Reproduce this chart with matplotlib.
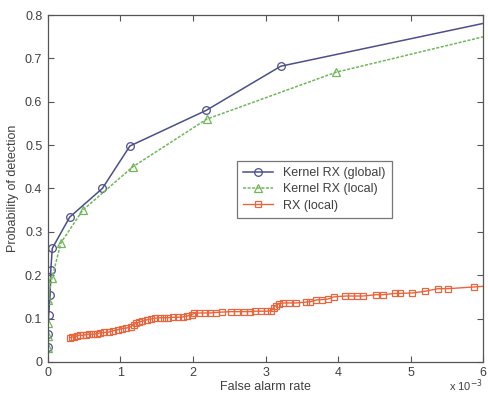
import numpy as np
import matplotlib.pyplot as plt

plt.rcParams['font.family'] = ['Liberation Sans', 'DejaVu Sans']

# Kernel RX (global)
krx_global_x = [0.0, 0.0, 0.01, 0.03, 0.04, 0.06, 0.30, 0.75, 1.13, 2.18, 3.21, 7.0]
krx_global_y = [0.035, 0.064, 0.108, 0.154, 0.212, 0.262, 0.334, 0.400, 0.498, 0.580, 0.682, 0.816]

# Kernel RX (local)
krx_local_x = [0.0, 0.0, 0.0, 0.0, 0.055, 0.18, 0.48, 1.17, 2.19, 3.97, 7.0]
krx_local_y = [0.032, 0.060, 0.090, 0.143, 0.193, 0.275, 0.350, 0.450, 0.560, 0.668, 0.790]

# RX (local)
rx_x = [0.30, 0.33, 0.36, 0.40, 0.44, 0.48, 0.52, 0.57, 0.62, 0.67, 0.72, 0.78,
        0.84, 0.90, 0.96, 1.02, 1.08, 1.14, 1.18, 1.22, 1.26, 1.30, 1.36, 1.42,
        1.48, 1.54, 1.60, 1.66, 1.72, 1.80, 1.86, 1.92, 1.98, 2.02, 2.08, 2.16,
        2.24, 2.32, 2.40, 2.52, 2.60, 2.70, 2.78, 2.86, 2.94, 3.02, 3.08, 3.11,
        3.14, 3.18, 3.24, 3.32, 3.42, 3.56, 3.62, 3.70, 3.78, 3.86, 3.94, 4.10,
        4.18, 4.26, 4.34, 4.52, 4.62, 4.78, 4.86, 5.02, 5.20, 5.38, 5.52, 5.88, 6.5]
rx_y = [0.055, 0.058, 0.057, 0.060, 0.062, 0.061, 0.063, 0.064, 0.064, 0.065, 0.067, 0.068,
        0.069, 0.072, 0.074, 0.077, 0.078, 0.081, 0.086, 0.090, 0.092, 0.094, 0.097, 0.099,
        0.101, 0.102, 0.102, 0.102, 0.103, 0.103, 0.104, 0.106, 0.109, 0.112, 0.113, 0.113,
        0.113, 0.114, 0.115, 0.116, 0.116, 0.116, 0.116, 0.117, 0.117, 0.117, 0.118, 0.125,
        0.130, 0.134, 0.136, 0.136, 0.136, 0.138, 0.139, 0.143, 0.144, 0.145, 0.150, 0.152,
        0.152, 0.152, 0.152, 0.155, 0.155, 0.158, 0.158, 0.159, 0.163, 0.169, 0.169, 0.173, 0.180]

x_ticks = [0, 1, 2, 3, 4, 5, 6]
y_ticks = [0, 0.1, 0.2, 0.3, 0.4, 0.5, 0.6, 0.7, 0.8]
y_tick_labels = ['0', '0.1', '0.2', '0.3', '0.4', '0.5', '0.6', '0.7', '0.8']

text_color = '#404040'

fig = plt.figure(figsize=(4.89, 3.96), dpi=100)
ax = fig.add_axes([0.098, 0.086, 0.89, 0.876])

ax.plot(krx_global_x, krx_global_y, color='#4b4f8c', lw=1.1, marker='o',
        ms=5.5, mfc='none', mew=0.9, label='Kernel RX (global)')
ax.plot(krx_local_x, krx_local_y, color='#6fb85a', lw=1.1, ls=(0, (2, 1)),
        marker='^', ms=5.5, mfc='none', mew=0.9, label='Kernel RX (local)')
ax.plot(rx_x, rx_y, color='#e8663e', lw=1.0, marker='s', ms=4.5,
        mfc='none', mew=0.9, label='RX (local)')

ax.set_xlim(0, 6)
ax.set_ylim(0, 0.8)
ax.set_xticks(x_ticks)
ax.set_yticks(y_ticks)
ax.set_yticklabels(y_tick_labels)
ax.tick_params(direction='in', top=True, right=True, length=4, width=0.8,
               labelsize=9, colors='#555555', labelcolor=text_color, pad=4)
for sp in ax.spines.values():
    sp.set_color('#555555')
    sp.set_linewidth(0.9)

ax.set_xlabel('False alarm rate', fontsize=9, color=text_color, labelpad=1)
ax.set_ylabel('Probability of detection', fontsize=9, color=text_color, labelpad=4)
ax.text(1.0, -0.045, r'x 10$^{-3}$', transform=ax.transAxes, ha='right',
        va='top', fontsize=8, color=text_color)

leg = ax.legend(loc='lower left', bbox_to_anchor=(0.434, 0.415), fontsize=9,
                frameon=True, fancybox=False, borderpad=0.5, handlelength=2.4,
                labelspacing=0.35, borderaxespad=0)
leg.get_frame().set_edgecolor('#555555')
leg.get_frame().set_linewidth(0.9)
for t in leg.get_texts():
    t.set_color(text_color)

fig.savefig('out.png', dpi=100)
